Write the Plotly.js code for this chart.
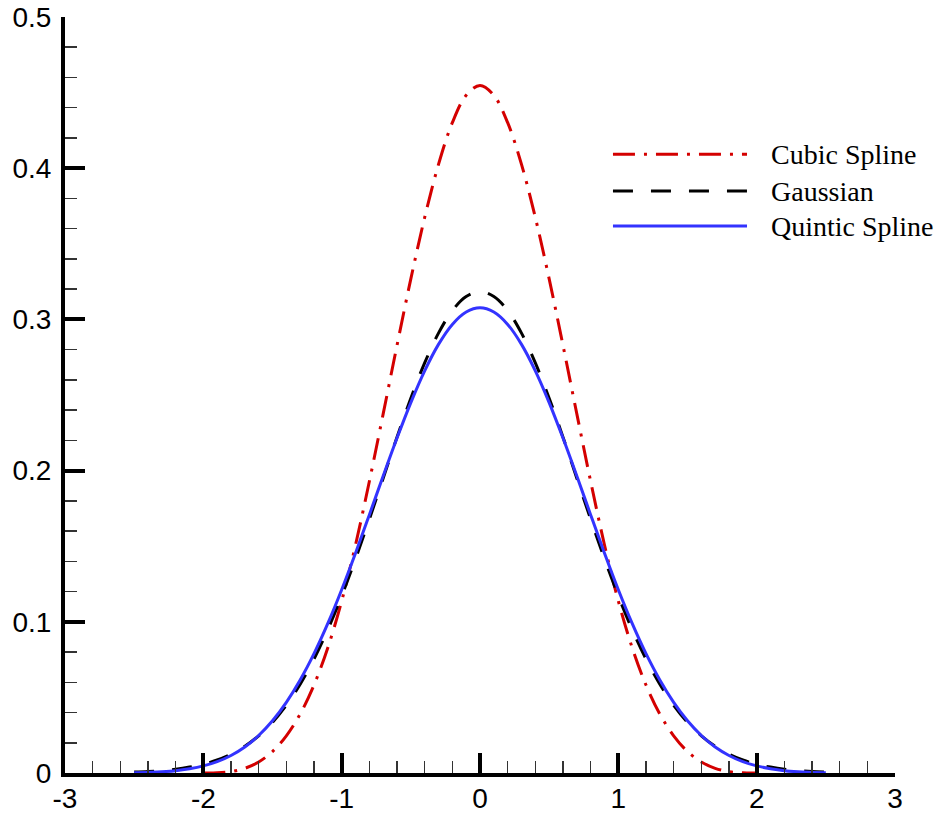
<!DOCTYPE html>
<html>
<head>
<meta charset="utf-8">
<script src="https://cdn.plot.ly/plotly-3.0.1.min.js"></script>
<style>html,body{margin:0;padding:0;background:#fff;}#chart{width:946px;height:814px;}</style>
</head>
<body>
<div id="chart"></div>
<script>
const xValues = [-3.0,-2.9,-2.8,-2.7,-2.6,-2.5,-2.4,-2.3,-2.2,-2.1,-2.0,-1.9,-1.8,-1.7,-1.6,-1.5,-1.4,-1.3,-1.2,-1.1,-1.0,-0.9,-0.8,-0.7,-0.6,-0.5,-0.4,-0.3,-0.2,-0.1,0.0,0.1,0.2,0.3,0.4,0.5,0.6,0.7,0.8,0.9,1.0,1.1,1.2,1.3,1.4,1.5,1.6,1.7,1.8,1.9,2.0,2.1,2.2,2.3,2.4,2.5,2.6,2.7,2.8,2.9,3.0];
const cubicSpline = [null,null,null,null,null,null,null,null,null,null,0,0.0001,0.0009,0.0031,0.0073,0.0142,0.0246,0.0390,0.0582,0.0829,0.1137,0.1508,0.1928,0.2375,0.2828,0.3268,0.3674,0.4025,0.4301,0.4482,0.4547,0.4482,0.4301,0.4025,0.3674,0.3268,0.2828,0.2375,0.1928,0.1508,0.1137,0.0829,0.0582,0.0390,0.0246,0.0142,0.0073,0.0031,0.0009,0.0001,0,null,null,null,null,null,null,null,null,null,null];
const gaussian = [null,null,null,null,null,0.0006,0.0010,0.0016,0.0025,0.0039,0.0058,0.0086,0.0125,0.0177,0.0246,0.0335,0.0448,0.0587,0.0754,0.0949,0.1171,0.1416,0.1678,0.1950,0.2221,0.2479,0.2712,0.2909,0.3058,0.3151,0.3183,0.3151,0.3058,0.2909,0.2712,0.2479,0.2221,0.1950,0.1678,0.1416,0.1171,0.0949,0.0754,0.0587,0.0448,0.0335,0.0246,0.0177,0.0125,0.0086,0.0058,0.0039,0.0025,0.0016,0.0010,0.0006,null,null,null,null,null];
const quinticSpline = [null,null,null,null,null,0.0001,0.0004,0.0008,0.0015,0.0028,0.0047,0.0075,0.0116,0.0172,0.0248,0.0345,0.0467,0.0615,0.0789,0.0989,0.1212,0.1454,0.1707,0.1964,0.2215,0.2450,0.2660,0.2835,0.2967,0.3049,0.3077,0.3049,0.2967,0.2835,0.2660,0.2450,0.2215,0.1964,0.1707,0.1454,0.1212,0.0989,0.0789,0.0615,0.0467,0.0345,0.0248,0.0172,0.0116,0.0075,0.0047,0.0028,0.0015,0.0008,0.0004,0.0001,null,null,null,null,null];
const seriesNames = ["Cubic Spline", "Gaussian", "Quintic Spline"];
const seriesColors = ['#d40000', '#000000', '#3333ff'];
const seriesDashes = ['22px,9px,3px,9px', '20px,18px', 'solid'];
const xTickVals = [-3,-2,-1,0,1,2,3];
const xTickText = ["-3","-2","-1","0","1","2","3"];
const yTickVals = [0,0.1,0.2,0.3,0.4,0.5];
const yTickText = ["0","0.1","0.2","0.3","0.4","0.5"];

const seriesValues = [cubicSpline, gaussian, quinticSpline];
const traces = seriesValues.map((ys, i) => ({
  x: xValues, y: ys, name: seriesNames[i], type: 'scatter', mode: 'lines', connectgaps: false,
  line: {color: seriesColors[i], width: 3, dash: seriesDashes[i], shape: 'spline', smoothing: 1}
}));

// Manual legend (line samples + real text labels), placed in paper coordinates
const legendRowsY = [0.8184, 0.7698, 0.7235];
const shapes = legendRowsY.map((yy, i) => ({
  type: 'line', xref: 'paper', yref: 'paper', x0: 0.6602, x1: 0.8217, y0: yy, y1: yy,
  line: {color: seriesColors[i], width: 3, dash: seriesDashes[i]}
}));
const annotations = legendRowsY.map((yy, i) => ({
  xref: 'paper', yref: 'paper', x: 0.8494, y: yy, xanchor: 'left', yanchor: 'middle',
  text: seriesNames[i], showarrow: false, borderpad: 0,
  font: {family: 'Liberation Serif, Times New Roman, serif', size: 28, color: '#000'}
}));

const axisFont = {family: 'Liberation Sans, Arial, sans-serif', size: 28, color: '#000'};
const layout = {
  width: 946, height: 814,
  margin: {l: 65, r: 51, t: 17, b: 41, pad: 0},
  paper_bgcolor: '#fff', plot_bgcolor: '#fff',
  showlegend: false,
  shapes: shapes,
  annotations: annotations,
  xaxis: {range: [-3, 3], tickmode: 'array', tickvals: xTickVals, ticktext: xTickText,
          showgrid: false, zeroline: false, showline: true, linecolor: '#000', linewidth: 4,
          ticks: 'inside', ticklen: 20, tickwidth: 4, tickcolor: '#000', tickfont: axisFont,
          ticklabelstandoff: -3, layer: 'above traces',
          minor: {ticks: 'inside', ticklen: 12, tickwidth: 1.5, tickcolor: '#333', dtick: 0.2, tick0: 0, showgrid: false}},
  yaxis: {range: [0, 0.5], tickmode: 'array', tickvals: yTickVals, ticktext: yTickText,
          showgrid: false, zeroline: false, showline: true, linecolor: '#000', linewidth: 4,
          ticks: 'inside', ticklen: 20, tickwidth: 4, tickcolor: '#000', tickfont: axisFont,
          ticklabelstandoff: 4, layer: 'above traces',
          minor: {ticks: 'inside', ticklen: 12, tickwidth: 1.5, tickcolor: '#333', dtick: 0.02, tick0: 0, showgrid: false}}
};

Plotly.newPlot('chart', traces, layout, {displayModeBar: false, staticPlot: true});
</script>
</body>
</html>
